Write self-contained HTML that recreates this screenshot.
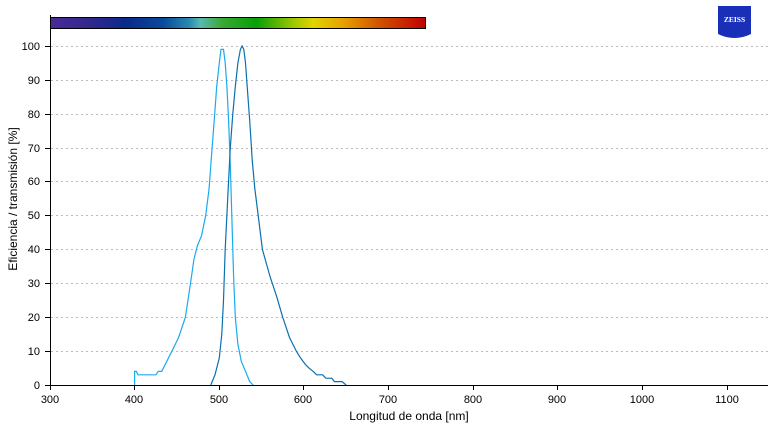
<!DOCTYPE html>
<html><head><meta charset="utf-8"><style>
html,body{margin:0;padding:0;background:#fff;}
svg{display:block;font-family:"Liberation Sans",sans-serif;}
</style></head><body>
<svg width="783" height="426" viewBox="0 0 783 426" xmlns="http://www.w3.org/2000/svg">
<defs>
<linearGradient id="sp" x1="0" x2="1" y1="0" y2="0">
<stop offset="0" stop-color="#4a2a98"/>
<stop offset="0.1" stop-color="#32288c"/>
<stop offset="0.2" stop-color="#0a2a8a"/>
<stop offset="0.3" stop-color="#0a4a9a"/>
<stop offset="0.37" stop-color="#2a8ab0"/>
<stop offset="0.4" stop-color="#5ab8b0"/>
<stop offset="0.46" stop-color="#38a830"/>
<stop offset="0.55" stop-color="#08a008"/>
<stop offset="0.65" stop-color="#a0c800"/>
<stop offset="0.7" stop-color="#e0d400"/>
<stop offset="0.78" stop-color="#e8a000"/>
<stop offset="0.88" stop-color="#d05000"/>
<stop offset="1" stop-color="#c00000"/>
</linearGradient>
</defs>
<rect x="50.5" y="17.5" width="375" height="11" fill="url(#sp)" stroke="#000" stroke-width="1"/>
<!-- zeiss -->
<rect x="718" y="6" width="33" height="34" fill="#1a2fb8"/>
<path d="M718 34 Q734.5 42 751 34 L751 40 L718 40Z" fill="#fff"/>
<text x="734.5" y="22" font-size="7.5" font-weight="bold" fill="#fff" text-anchor="middle" font-family="Liberation Serif,serif">ZEISS</text>
<g stroke="#bbb" stroke-dasharray="2,3" stroke-width="1">
<line x1="51" x2="768" y1="351.5" y2="351.5"/><line x1="51" x2="768" y1="317.5" y2="317.5"/>
<line x1="51" x2="768" y1="283.5" y2="283.5"/><line x1="51" x2="768" y1="249.5" y2="249.5"/>
<line x1="51" x2="768" y1="215.5" y2="215.5"/><line x1="51" x2="768" y1="181.5" y2="181.5"/>
<line x1="51" x2="768" y1="148.5" y2="148.5"/><line x1="51" x2="768" y1="114.5" y2="114.5"/>
<line x1="51" x2="768" y1="80.5" y2="80.5"/><line x1="51" x2="768" y1="46.5" y2="46.5"/>
</g>
<g stroke="#000" stroke-width="1">
<line x1="50.5" y1="15" x2="50.5" y2="385"/>
<line x1="45" y1="385.5" x2="768" y2="385.5"/>
<line x1="45" x2="50" y1="351.5" y2="351.5"/><line x1="45" x2="50" y1="317.5" y2="317.5"/>
<line x1="45" x2="50" y1="283.5" y2="283.5"/><line x1="45" x2="50" y1="249.5" y2="249.5"/>
<line x1="45" x2="50" y1="215.5" y2="215.5"/><line x1="45" x2="50" y1="181.5" y2="181.5"/>
<line x1="45" x2="50" y1="148.5" y2="148.5"/><line x1="45" x2="50" y1="114.5" y2="114.5"/>
<line x1="45" x2="50" y1="80.5" y2="80.5"/><line x1="45" x2="50" y1="46.5" y2="46.5"/>
<line x1="50.5" x2="50.5" y1="385" y2="390"/><line x1="134.5" x2="134.5" y1="385" y2="390"/>
<line x1="219.5" x2="219.5" y1="385" y2="390"/><line x1="303.5" x2="303.5" y1="385" y2="390"/>
<line x1="388.5" x2="388.5" y1="385" y2="390"/><line x1="473.5" x2="473.5" y1="385" y2="390"/>
<line x1="557.5" x2="557.5" y1="385" y2="390"/><line x1="642.5" x2="642.5" y1="385" y2="390"/>
<line x1="727.5" x2="727.5" y1="385" y2="390"/>
</g>
<g font-size="11" fill="#000" text-anchor="end">
<text x="40" y="389">0</text><text x="40" y="355">10</text><text x="40" y="321">20</text>
<text x="40" y="287">30</text><text x="40" y="253">40</text><text x="40" y="219">50</text>
<text x="40" y="185">60</text><text x="40" y="152">70</text><text x="40" y="118">80</text>
<text x="40" y="84">90</text><text x="40" y="50">100</text>
</g>
<g font-size="11" fill="#000" text-anchor="middle">
<text x="50" y="403">300</text><text x="134" y="403">400</text><text x="219" y="403">500</text>
<text x="303" y="403">600</text><text x="388" y="403">700</text><text x="473" y="403">800</text>
<text x="557" y="403">900</text><text x="642" y="403">1000</text><text x="727" y="403">1100</text>
<text x="409" y="420" font-size="12">Longitud de onda [nm]</text>
</g>
<text transform="translate(17,199) rotate(-90)" font-size="12" text-anchor="middle">Eficiencia / transmisión [%]</text>
<polyline id="ex" fill="none" stroke="#1aaaf0" stroke-width="1.2" points=""/>
<polyline id="em" fill="none" stroke="#0a70b0" stroke-width="1.2" points=""/>
<script>
function P(d){return d.map(function(p){return (50+(p[0]-300)*0.8463).toFixed(1)+","+(385-p[1]*3.39).toFixed(1)}).join(" ");}
var ex=[[400,0],[400,4],[402,4],[404,3],[425,3],[428,4],[432,4],[438,7],[444,10],[452,14],[460,20],[466,30],[470,37],[474,41],[479,44],[484,50],[488,58],[491,68],[494,78],[497,88],[500,95],[502,99],[505,99],[507,95],[509,88],[511,78],[513,65],[515,48],[517,32],[519,20],[522,12],[526,7],[531,4],[536,1],[540,0]];
var em=[[490,0],[495,3],[500,8],[503,15],[505,25],[507,40],[510,55],[513,70],[516,80],[519,88],[522,95],[525,99],[527,100],[529,99],[531,95],[533,88],[536,78],[539,66],[542,58],[546,50],[551,40],[560,32],[568,26],[575,20],[583,14],[591,10],[596,8],[602,6],[606,5],[611,4],[615,3],[622,3],[626,2],[633,2],[636,1],[645,1],[650,0]];
document.getElementById("ex").setAttribute("points",P(ex));
document.getElementById("em").setAttribute("points",P(em));
</script>
</svg>
</body></html>
